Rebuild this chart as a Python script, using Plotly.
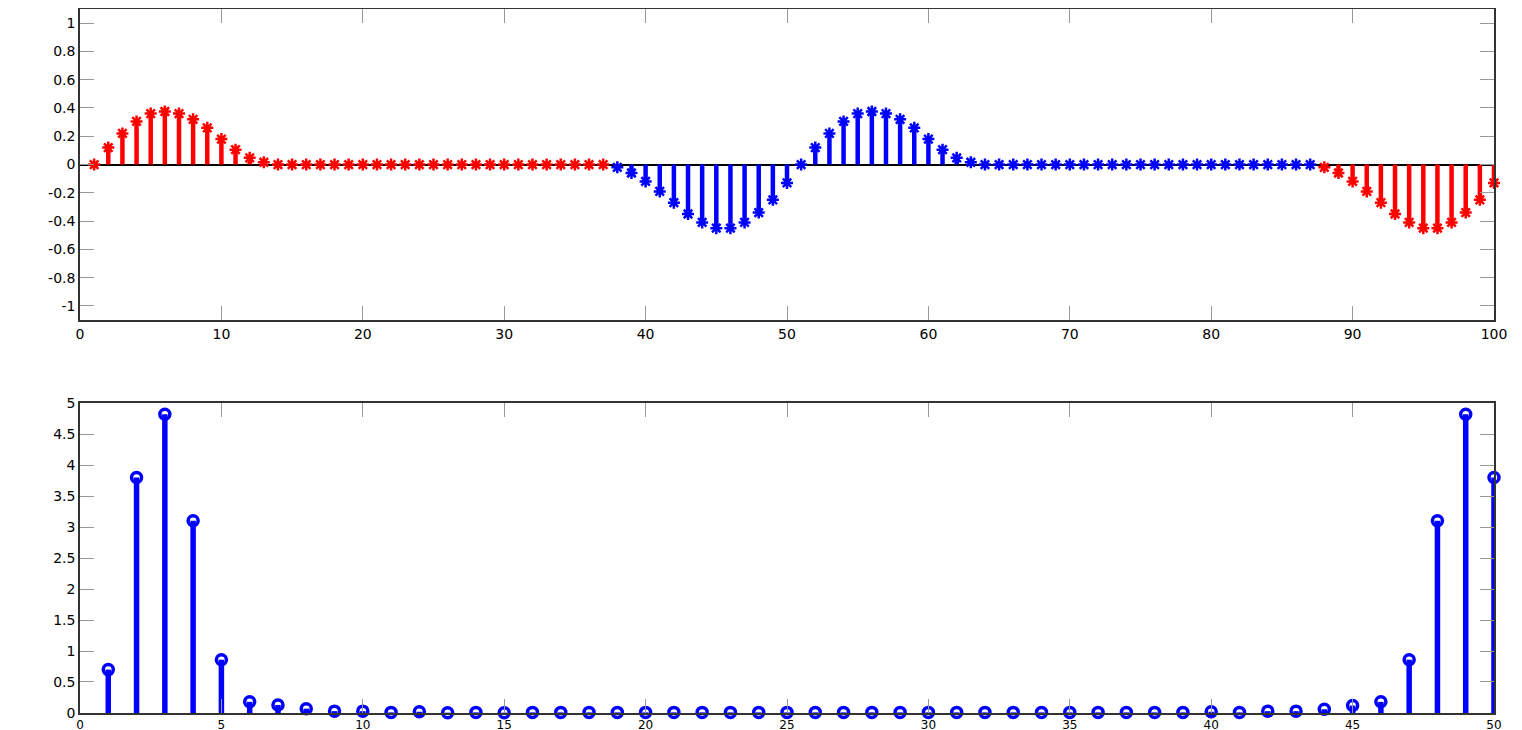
import plotly.graph_objects as go
from plotly.subplots import make_subplots

# ---------- data: top panel (time signal, n = 1..100) ----------
n_top = list(range(1, 101))
lobe_pos = [0.12, 0.22, 0.305, 0.36, 0.375, 0.36, 0.32, 0.26, 0.18, 0.105, 0.047, 0.016]
lobe_neg = [-0.02, -0.06, -0.12, -0.19, -0.27, -0.35, -0.41, -0.45, -0.45, -0.41, -0.34, -0.25, -0.13]
sig_top = ([0.0] + lobe_pos            # n = 1..13
           + [0.0] * 24                # n = 14..37
           + lobe_neg                  # n = 38..50
           + [0.0] + lobe_pos          # n = 51..63
           + [0.0] * 24                # n = 64..87
           + lobe_neg)                 # n = 88..100
red_idx_a = list(range(1, 38))
blue_idx = list(range(38, 88))
red_idx_b = list(range(88, 101))

# ---------- data: bottom panel (magnitude spectrum, k = 1..50) ----------
k_bot = list(range(1, 51))
mag_bot = [0.7, 3.8, 4.82, 3.1, 0.86, 0.18, 0.13, 0.07, 0.03, 0.03,
           0.01, 0.02, 0.005, 0.01, 0.005, 0.01, 0.01, 0.01, 0.01, 0.01,
           0.01, 0.01, 0.01, 0.01, 0.01, 0.01, 0.01, 0.01, 0.01, 0.01,
           0.01, 0.01, 0.01, 0.01, 0.01, 0.01, 0.01, 0.01, 0.01, 0.02,
           0.01, 0.03, 0.03, 0.06, 0.12, 0.18, 0.86, 3.1, 4.82, 3.8]

# ---------- tick labels ----------
top_xticks = list(range(0, 101, 10))
top_yticks = [-1, -0.8, -0.6, -0.4, -0.2, 0, 0.2, 0.4, 0.6, 0.8, 1]
top_ytext = ["-1", "-0.8", "-0.6", "-0.4", "-0.2", "0", "0.2", "0.4", "0.6", "0.8", "1"]
bot_xticks = list(range(0, 51, 5))
bot_yticks = [0, 0.5, 1, 1.5, 2, 2.5, 3, 3.5, 4, 4.5, 5]
bot_ytext = ["0", "0.5", "1", "1.5", "2", "2.5", "3", "3.5", "4", "4.5", "5"]

RED = "#ff0000"
BLUE = "#0000ff"


def stems(xs, ys):
    sx, sy = [], []
    for x, y in zip(xs, ys):
        sx += [x, x, None]
        sy += [0, y, None]
    return sx, sy


fig = make_subplots(rows=2, cols=1)

for idx, color in [(red_idx_a, RED), (blue_idx, BLUE), (red_idx_b, RED)]:
    xs = idx
    ys = [sig_top[i - 1] for i in idx]
    sx, sy = stems(xs, ys)
    fig.add_trace(go.Scatter(x=sx, y=sy, mode="lines", line=dict(color=color, width=4.5),
                             showlegend=False, hoverinfo="skip", cliponaxis=False), row=1, col=1)
    fig.add_trace(go.Scatter(x=xs, y=ys, mode="markers", cliponaxis=False,
                             marker=dict(symbol="asterisk-open", size=10, color=color,
                                         line=dict(color=color, width=2.5)),
                             showlegend=False), row=1, col=1)

sx, sy = stems(k_bot, mag_bot)
fig.add_trace(go.Scatter(x=sx, y=sy, mode="lines", line=dict(color=BLUE, width=5.5),
                         showlegend=False, hoverinfo="skip", cliponaxis=False), row=2, col=1)
fig.add_trace(go.Scatter(x=k_bot, y=mag_bot, mode="markers", cliponaxis=False,
                         marker=dict(symbol="circle-open", size=10, color=BLUE,
                                     line=dict(color=BLUE, width=3.5)),
                         showlegend=False), row=2, col=1)

font = dict(family="DejaVu Sans, Liberation Sans, Arial, sans-serif", size=14, color="black")
axis_common = dict(showline=True, linecolor="#333333", linewidth=1.5, mirror="allticks",
                   ticks="inside", ticklen=14, tickcolor="#999999", tickwidth=1,
                   showgrid=False, tickfont=font, automargin=False)

fig.update_xaxes(**axis_common)
fig.update_yaxes(**axis_common)

fig.update_xaxes(range=[0, 100], tickvals=top_xticks, domain=[0, 1], zeroline=False, row=1, col=1)
fig.update_yaxes(range=[-1.1, 1.1], tickvals=top_yticks, ticktext=top_ytext, domain=[0.5582, 1],
                 zeroline=True, zerolinecolor="black", zerolinewidth=2, row=1, col=1)
fig.update_xaxes(range=[0, 50], tickvals=bot_xticks, domain=[0, 1], zeroline=False,
                 tickfont=dict(family=font["family"], size=12, color="black"), row=2, col=1)
fig.update_yaxes(range=[0, 5], tickvals=bot_yticks, ticktext=bot_ytext, domain=[0, 0.4403],
                 zeroline=False, row=2, col=1)

fig.update_layout(width=1522, height=730, margin=dict(l=72, r=36, t=1, b=25),
                  plot_bgcolor="white", paper_bgcolor="white", font=font)

fig.write_html("out.html")
